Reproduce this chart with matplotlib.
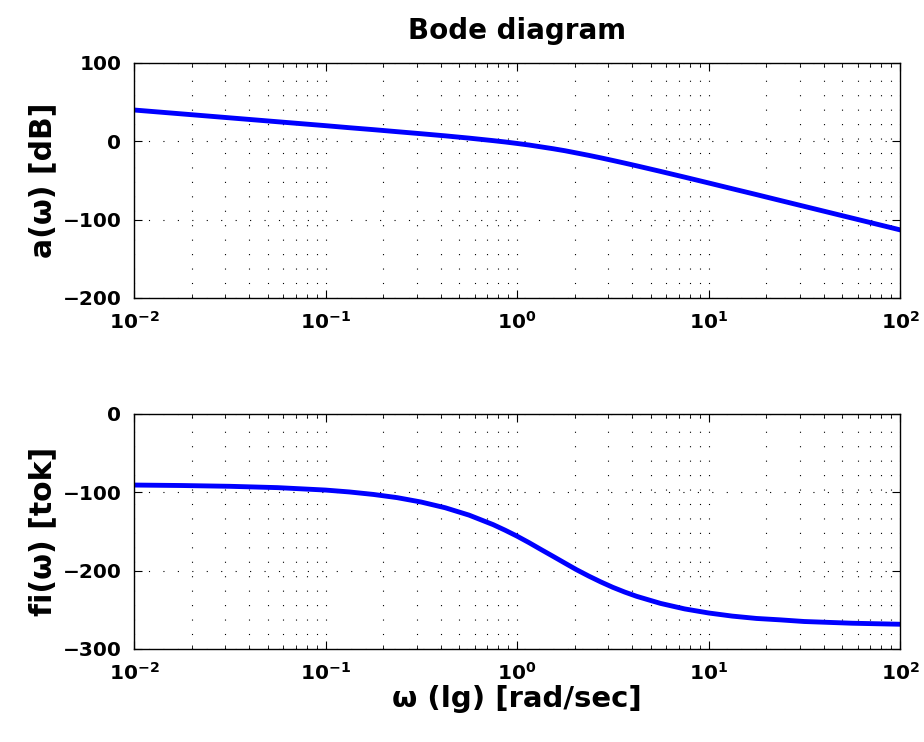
import numpy as np
import matplotlib.pyplot as plt
from matplotlib.ticker import FixedLocator, FixedFormatter, LogLocator, NullFormatter

plt.rcParams['font.family'] = ['DejaVu Sans']
plt.rcParams['font.weight'] = 'bold'
plt.rcParams['mathtext.fontset'] = 'custom'
plt.rcParams['mathtext.rm'] = 'DejaVu Sans:bold'
plt.rcParams['mathtext.it'] = 'DejaVu Sans:bold'
plt.rcParams['mathtext.bf'] = 'DejaVu Sans:bold'

# frequency points (rad/sec)
w = [0.01, 0.0178, 0.0316, 0.0562, 0.1, 0.133, 0.178, 0.237, 0.316, 0.422,
     0.562, 0.75, 0.866, 1.0, 1.155, 1.33, 1.54, 1.78, 2.05, 2.37, 2.74,
     3.16, 3.65, 4.22, 5.62, 7.5, 10.0, 13.3, 17.8, 23.7, 31.6, 56.2, 100.0]
# magnitude a(w) in dB
mag = [40.0, 35.0, 30.0, 25.0, 20.0, 17.4, 14.9, 12.3, 9.7, 7.0,
       4.1, 0.9, -0.8, -2.7, -4.7, -7.0, -9.4, -12.0, -14.9, -17.9, -21.1,
       -24.4, -27.8, -31.3, -38.4, -45.7, -53.1, -60.5, -68.0, -75.5, -83.0, -98.0, -113.0]
# phase fi(w) in degrees
phase = [-90.7, -91.3, -92.3, -94.0, -97.1, -99.5, -102.7, -106.8, -112.4, -119.7,
         -129.1, -141.2, -148.3, -155.9, -164.2, -172.8, -181.6, -190.4, -198.9, -206.9, -214.4,
         -221.2, -227.3, -232.8, -241.8, -248.8, -254.0, -258.0, -261.0, -262.8, -264.9, -267.1, -268.4]

xticks = [1e-2, 1e-1, 1e0, 1e1, 1e2]
xticklabels = [r'$10^{-2}$', r'$10^{-1}$', r'$10^{0}$', r'$10^{1}$', r'$10^{2}$']
mag_ticks = [-200, -100, 0, 100]
phase_ticks = [-300, -200, -100, 0]

fig = plt.figure(figsize=(9.24, 7.42), dpi=100)
ax1 = fig.add_axes([134 / 924, 1 - 298 / 742, 766 / 924, 235 / 742])
ax2 = fig.add_axes([134 / 924, 1 - 649 / 742, 766 / 924, 235 / 742])


def style(ax, yticks):
    ax.set_xscale('log')
    ax.set_xlim(1e-2, 1e2)
    ax.set_ylim(yticks[0], yticks[-1])
    ax.xaxis.set_major_locator(FixedLocator(xticks))
    ax.xaxis.set_major_formatter(FixedFormatter(xticklabels))
    ax.xaxis.set_minor_locator(LogLocator(base=10, subs=np.arange(2, 10)))
    ax.xaxis.set_minor_formatter(NullFormatter())
    ax.set_yticks(yticks)
    dots = (0, (1, 12))
    ax.grid(True, which='major', axis='both', color='black', linestyle=dots, linewidth=0.8)
    ax.grid(True, which='minor', axis='x', color='black', linestyle=dots, linewidth=0.8)
    ax.tick_params(which='both', direction='in', top=True, right=True, labelsize=14.5, pad=9)
    ax.tick_params(which='major', length=6, width=0.8)
    ax.tick_params(which='minor', length=3, width=0.6)
    for s in ax.spines.values():
        s.set_linewidth(1.0)


ax1.plot(w, mag, color='#0000ff', linewidth=3.5)
style(ax1, mag_ticks)
ax1.set_ylabel('a(ω) [dB]', fontsize=21.5, fontweight='bold', labelpad=4)
ax1.set_title('Bode diagram', fontsize=20, fontweight='bold', pad=17)

ax2.plot(w, phase, color='#0000ff', linewidth=3.5)
style(ax2, phase_ticks)
ax2.set_ylabel('fi(ω) [tok]', fontsize=21.5, fontweight='bold', labelpad=4)
ax2.set_xlabel('ω (lg) [rad/sec]', fontsize=21, fontweight='bold', labelpad=1)

fig.savefig('out.png', dpi=100)
